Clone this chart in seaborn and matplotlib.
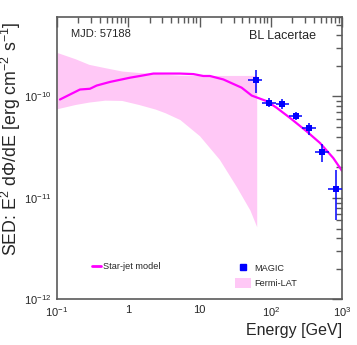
import numpy as np
import pandas as pd
import matplotlib
matplotlib.use("Agg")
import matplotlib.pyplot as plt
import seaborn as sns
from matplotlib.lines import Line2D
from matplotlib.patches import Patch
from matplotlib.ticker import LogLocator, NullFormatter, FixedLocator, FixedFormatter

sns.set_style("white")
plt.rcParams['font.family'] = ['Liberation Sans', 'DejaVu Sans']
plt.rcParams['mathtext.default'] = 'regular'

"""Star-jet model curve (GeV, erg cm^-2 s^-1)"""
model_e = [0.11, 0.21, 0.29, 0.36, 0.555, 1.06, 1.46, 2.25, 5.3, 8.2, 11.3, 14.0,
           21.6, 39, 54, 88, 121, 186, 319, 491, 755, 1000]
model_sed = [9.33e-11, 1.17e-10, 1.19e-10, 1.28e-10, 1.39e-10, 1.53e-10, 1.59e-10,
             1.68e-10, 1.68e-10, 1.66e-10, 1.59e-10, 1.59e-10, 1.47e-10, 1.22e-10,
             1.02e-10, 8.98e-11, 7.73e-11, 6.15e-11, 4.53e-11, 3.48e-11, 2.47e-11, 1.85e-11]

"""Fermi-LAT butterfly"""
fermi_e = [0.1, 0.18, 0.28, 0.47, 0.81, 1.4, 2.4, 3.3, 5.3, 10, 19, 33, 51, 63.5]
fermi_hi = [2.71e-10, 2.35e-10, 2.07e-10, 1.92e-10, 1.78e-10, 1.72e-10, 1.68e-10,
            1.65e-10, 1.62e-10, 1.61e-10, 1.61e-10, 1.61e-10, 1.61e-10, 1.61e-10]
fermi_lo = [7.56e-11, 8.33e-11, 8.8e-11, 9.19e-11, 9.13e-11, 8.33e-11, 7.5e-11,
            6.9e-11, 5.92e-11, 4.1e-11, 2.4e-11, 1.29e-11, 7.6e-12, 5.2e-12]

"""MAGIC points with error bars"""
magic_e = [61.5, 93.5, 145, 224, 344, 530, 815]
magic_sed = [1.44e-10, 8.67e-11, 8.47e-11, 6.38e-11, 4.93e-11, 2.83e-11, 1.23e-11]
magic_e_lo = [47.5, 74.6, 117, 180, 272, 418, 643]
magic_e_hi = [76, 117, 180, 277, 427, 657, 1000]
magic_sed_lo = [1.09e-10, 7.91e-11, 7.56e-11, 5.82e-11, 4.21e-11, 2.24e-11, 6.05e-12]
magic_sed_hi = [1.81e-10, 9.55e-11, 9.33e-11, 7.0e-11, 5.49e-11, 3.43e-11, 1.89e-11]

magic = pd.DataFrame({'E': magic_e, 'SED': magic_sed})
model = pd.DataFrame({'E': model_e, 'SED': model_sed})

pink = '#ffc8f6'
magenta = '#ff00ff'
blue = '#0000ff'
frame = '#5a5a5a'

fig = plt.figure(figsize=(3.57, 3.45), dpi=100)
ax = fig.add_axes([0.1597, 0.1319, 0.7983, 0.8197])
ax.set_xscale('log')
ax.set_yscale('log')

ax.fill_between(fermi_e, fermi_lo, fermi_hi, color=pink, lw=0)
sns.lineplot(data=model, x='E', y='SED', color=magenta, lw=1.6, ax=ax, sort=False)

xerr = [np.array(magic_e) - np.array(magic_e_lo), np.array(magic_e_hi) - np.array(magic_e)]
yerr = [np.array(magic_sed) - np.array(magic_sed_lo), np.array(magic_sed_hi) - np.array(magic_sed)]
ax.errorbar(magic_e, magic_sed, xerr=xerr, yerr=yerr, fmt='none', ecolor=blue,
            elinewidth=1.1, capsize=0, zorder=4)
sns.scatterplot(data=magic, x='E', y='SED', marker='s', color=blue, s=13,
                edgecolor=blue, linewidth=0, ax=ax, zorder=5)

ax.set_xlim(0.1, 1000)
ax.set_ylim(1e-12, 6.1e-10)

"""Axis styling, ticks on all four sides"""
for sp in ax.spines.values():
    sp.set_color(frame)
    sp.set_linewidth(1.2)
ax.tick_params(which='both', direction='in', top=True, right=True, color=frame, width=1.0)
ax.tick_params(which='major', length=7, labelsize=8, pad=4)
ax.tick_params(which='minor', length=4)
ax.xaxis.set_major_locator(FixedLocator([0.1, 1, 10, 100, 1000]))
ax.xaxis.set_major_formatter(FixedFormatter(['10$^{-1}$', '1', '10', '10$^{2}$', '10$^{3}$']))
ax.xaxis.set_minor_locator(LogLocator(base=10, subs=np.arange(2, 10)))
ax.xaxis.set_minor_formatter(NullFormatter())
ax.yaxis.set_major_locator(FixedLocator([1e-12, 1e-11, 1e-10]))
ax.yaxis.set_major_formatter(FixedFormatter(['10$^{-12}$', '10$^{-11}$', '10$^{-10}$']))
ax.yaxis.set_minor_locator(LogLocator(base=10, subs=np.arange(2, 10)))
ax.yaxis.set_minor_formatter(NullFormatter())

ax.set_xlabel('Energy [GeV]', fontsize=11.5, loc='right', labelpad=3)
ax.set_ylabel('SED: E$^{2}$ dΦ/dE [erg cm$^{-2}$ s$^{-1}$]', fontsize=12.8, loc='top')
ax.yaxis.set_label_coords(-0.118, 0.985)

ax.text(0.05, 0.94, 'MJD: 57188', transform=ax.transAxes, fontsize=8, va='center')
ax.text(0.91, 0.93, 'BL Lacertae', transform=ax.transAxes, fontsize=9, va='center', ha='right')

"""Legends"""
leg1 = ax.legend(handles=[Line2D([], [], color=magenta, lw=2)], labels=['Star-jet model'],
                 loc='center left', bbox_to_anchor=(0.122, 0.116), frameon=False,
                 fontsize=6.6, handlelength=1.0, handletextpad=0.25, borderpad=0, borderaxespad=0)
ax.add_artist(leg1)
ax.legend(handles=[Line2D([], [], color=blue, marker='s', ls='none', markersize=4),
                   Patch(facecolor=pink, edgecolor='none')],
          labels=['MAGIC', 'Fermi-LAT'], loc='center left', bbox_to_anchor=(0.625, 0.084),
          frameon=False, fontsize=6.6, handlelength=1.75, handleheight=1.3,
          handletextpad=0.35, labelspacing=0.5, borderpad=0, borderaxespad=0)

fig.savefig('out.png', dpi=100)
